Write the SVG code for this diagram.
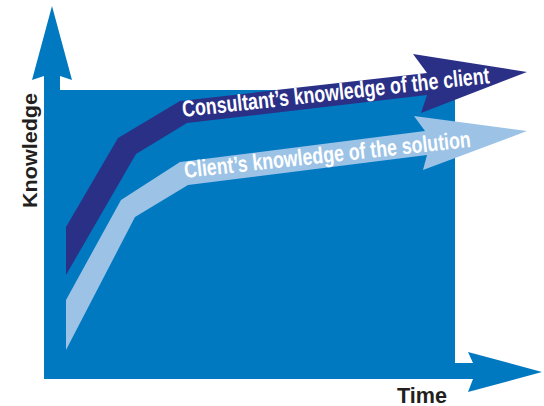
<svg xmlns="http://www.w3.org/2000/svg" width="544" height="406" viewBox="0 0 544 406">
  <style>
    .blue { fill: #0079c1; }
    .dark { fill: #2b3087; }
    .light { fill: #9cc3e6; }
    .band-label { font-family: "Liberation Sans", Arial, sans-serif; font-weight: bold; font-size: 23px; fill: #ffffff; }
    .axis-label { font-family: "Liberation Sans", Arial, sans-serif; font-weight: bold; fill: #231f20; }
  </style>
  <rect width="544" height="406" fill="#ffffff"/>
  <g id="chart-area">
    <rect class="blue" x="44" y="90" width="411" height="289"/>
  </g>
  <g id="axes">
    <path id="y-axis" class="blue" d="M52,6 L72,80 L60,76 L60,379 L44,379 L44,76 L32,80 Z"/>
    <path id="x-axis" class="blue" d="M44,363 L473,363 L468,352 L542,372 L468,392 L473,379 L44,379 Z"/>
  </g>
  <g id="consultant-arrow">
    <polygon class="dark" points="66,227 118,138 180,101 427,73 413,54 527,72 421,113 427,95 187,123 136,154 66,275"/>
    <text class="band-label" x="183" y="117" transform="rotate(-6.3 183 117)" textLength="309" lengthAdjust="spacingAndGlyphs">Consultant’s knowledge of the client</text>
  </g>
  <g id="client-arrow">
    <polygon class="light" points="66,300 121,200 180,162 425,131 414,116 527,131 423,170 427,155 188,185 135,217 66,350"/>
    <text class="band-label" x="185" y="178" transform="rotate(-6.2 185 178)" textLength="288" lengthAdjust="spacingAndGlyphs">Client’s knowledge of the solution</text>
  </g>
  <g id="labels">
    <text class="axis-label" x="37" y="208" font-size="20" transform="rotate(-90 37 208)" textLength="115" lengthAdjust="spacingAndGlyphs">Knowledge</text>
    <text class="axis-label" x="397" y="403" font-size="22" textLength="50" lengthAdjust="spacingAndGlyphs">Time</text>
  </g>
</svg>
